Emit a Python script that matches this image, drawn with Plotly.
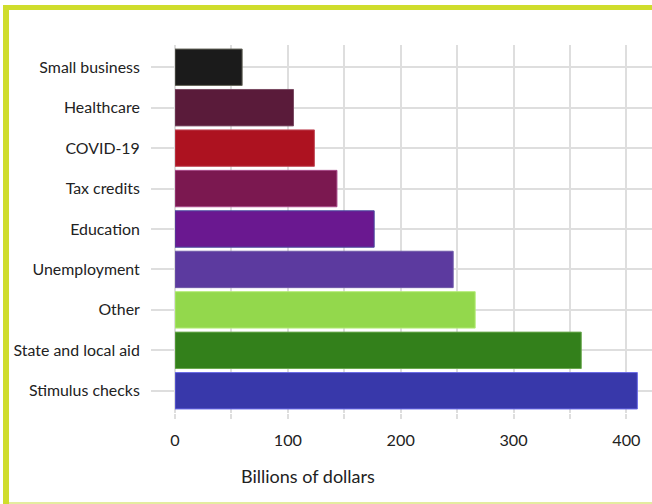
import plotly.graph_objects as go

categories = ["Small business", "Healthcare", "COVID-19", "Tax credits", "Education",
              "Unemployment", "Other", "State and local aid", "Stimulus checks"]
values = [59.5, 105, 123.5, 143.5, 176.5, 246.5, 266, 360, 409.7]
bar_colors = ["#1b1b1b", "#5a1b3a", "#ad1220", "#7b1850", "#6a1890",
              "#5c3a9f", "#93d84c", "#33801b", "#3838aa"]
edge_colors = ["#66665a", "#7a4a62", "#c04a58", "#a84a88", "#4a4aa0",
               "#6e5aa8", "#b4ec78", "#6aa84e", "#6a6ae6"]
tick_vals = [0, 50, 100, 150, 200, 250, 300, 350, 400]
tick_text = ["0", "", "100", "", "200", "", "300", "", "400"]
axis_title = "Billions of dollars"

W, H = 652, 504
L, R, T, B = 175, 0, 45, 91
PW, PH = W - L - R, H - T - B
px_per_unit = 1.1285


def px(x):
    return (x - L) / PW


def py(y):
    return (H - B - y) / PH


fig = go.Figure(go.Bar(
    x=values, y=categories, orientation="h",
    marker=dict(color=bar_colors, line=dict(color=edge_colors, width=1)),
    width=0.9,
))

grid = "#dedede"
font_family = "Lato, 'Open Sans', sans-serif"
fig.update_layout(
    width=W, height=H,
    margin=dict(l=L, r=R, t=T, b=B),
    paper_bgcolor="white", plot_bgcolor="white",
    showlegend=False,
    font=dict(family=font_family, size=16, color="#222222"),
    xaxis=dict(
        range=[0, PW / px_per_unit],
        tickvals=tick_vals, ticktext=tick_text,
        showgrid=True, gridcolor=grid, gridwidth=2,
        zeroline=True, zerolinecolor=grid, zerolinewidth=2,
        ticks="outside", ticklen=5, tickcolor=grid, tickwidth=2,
        ticklabelstandoff=8,
        tickfont=dict(size=16.2, color="#222222"),
        showline=False, fixedrange=True,
    ),
    yaxis=dict(
        categoryorder="array", categoryarray=categories,
        range=[8.55, -0.55],
        showgrid=True, gridcolor=grid, gridwidth=2,
        ticks="outside", ticklen=23, tickcolor=grid, tickwidth=2,
        ticklabelstandoff=8,
        tickfont=dict(size=15.9, color="#222222"),
        showline=False, fixedrange=True,
    ),
    annotations=[dict(
        text=axis_title, xref="paper", yref="paper",
        x=px(308), y=py(476), xanchor="center", yanchor="middle",
        showarrow=False, font=dict(size=18, color="#222222", family=font_family),
    )],
    shapes=[
        dict(type="rect", xref="paper", yref="paper", layer="above",
             x0=px(3), x1=px(9), y0=py(504), y1=py(5),
             fillcolor="#cfdd2c", line=dict(width=0)),
        dict(type="rect", xref="paper", yref="paper", layer="above",
             x0=px(3), x1=px(652), y0=py(10), y1=py(5),
             fillcolor="#cfdd2c", line=dict(width=0)),
        dict(type="rect", xref="paper", yref="paper", layer="above",
             x0=px(9), x1=px(652), y0=py(504), y1=py(502),
             fillcolor="#e4eca0", line=dict(width=0)),
    ],
)

fig.write_html(
    "out.html",
    config={"displayModeBar": False},
    post_script="document.body.style.margin='0';document.body.style.overflow='hidden';",
)
